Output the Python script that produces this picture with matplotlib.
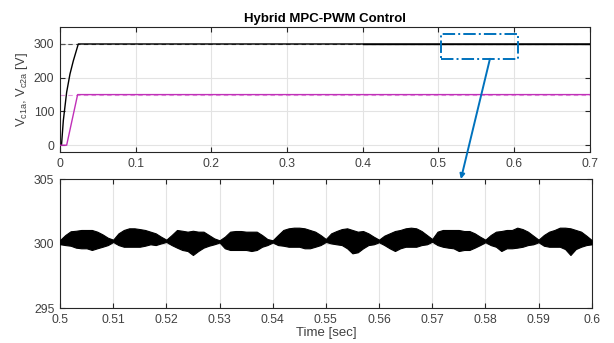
import numpy as np
import matplotlib
matplotlib.use("Agg")
import matplotlib.pyplot as plt
from matplotlib.patches import Rectangle, ConnectionPatch

plt.rcParams['font.family'] = ['Liberation Sans', 'DejaVu Sans']

# ---- top panel data ----
t_vc1 = [0.0, 0.002, 0.0044, 0.0088, 0.0132, 0.0176, 0.0242, 0.7]
v_vc1 = [0, 0, 73, 157, 211, 250, 300, 300]
t_vc2 = [0.0, 0.0088, 0.0233, 0.7]
v_vc2 = [0, 0, 150, 150]
ref_levels = [300, 150]

# ---- bottom panel data (envelope of Vc1a ripple, 0.5-0.6 s) ----
t_zoom = [round(0.5 + 0.001 * i, 3) for i in range(101)]
upper_env = [300.27, 300.66, 300.95, 300.99, 301.05, 301.05, 301.05, 300.92, 300.71, 300.45,
             300.30, 300.79, 301.05, 301.18, 301.18, 301.12, 301.05, 300.92, 300.79, 300.53,
             300.30, 300.66, 301.05, 300.99, 300.92, 300.99, 300.92, 300.92, 300.66, 300.40,
             300.25, 300.53, 300.92, 300.97, 300.97, 300.92, 300.92, 300.92, 300.66, 300.35,
             300.25, 300.66, 301.05, 301.18, 301.23, 301.23, 301.18, 301.05, 300.92, 300.66,
             300.35, 300.79, 300.97, 301.12, 301.18, 301.05, 300.92, 300.97, 300.79, 300.53,
             300.30, 300.61, 300.79, 300.97, 301.05, 301.18, 301.23, 301.18, 300.97, 300.66,
             300.35, 300.92, 301.05, 301.05, 301.05, 301.05, 300.97, 300.97, 300.79, 300.53,
             300.30, 300.66, 300.92, 300.97, 301.05, 301.05, 301.23, 301.12, 300.92, 300.61,
             300.30, 300.66, 300.92, 301.05, 301.23, 301.23, 301.18, 301.05, 300.92, 300.61,
             300.27]
lower_env = [299.95, 299.88, 299.83, 299.68, 299.63, 299.63, 299.50, 299.63, 299.75, 299.88,
             300.12, 299.88, 299.75, 299.75, 299.75, 299.75, 299.83, 299.94, 299.88, 300.01,
             300.12, 299.88, 299.68, 299.50, 299.42, 299.11, 299.42, 299.68, 299.83, 299.94,
             300.08, 299.63, 299.50, 299.50, 299.50, 299.50, 299.42, 299.50, 299.75, 299.88,
             300.08, 299.88, 299.83, 299.75, 299.75, 299.75, 299.63, 299.63, 299.75, 299.88,
             300.12, 300.01, 299.94, 299.88, 299.63, 299.24, 299.32, 299.63, 299.88, 299.94,
             300.10, 299.88, 299.63, 299.42, 299.63, 299.75, 299.75, 299.75, 299.88, 299.94,
             300.14, 299.88, 299.75, 299.68, 299.63, 299.42, 299.50, 299.50, 299.68, 299.88,
             300.10, 299.88, 299.75, 299.42, 299.63, 299.63, 299.68, 299.75, 299.88, 299.94,
             300.10, 299.83, 299.75, 299.75, 299.75, 299.57, 299.11, 299.57, 299.75, 299.88,
             299.94]

top_xticks = [0, 0.1, 0.2, 0.3, 0.4, 0.5, 0.6, 0.7]
top_xlabels = ['0', '0.1', '0.2', '0.3', '0.4', '0.5', '0.6', '0.7']
top_yticks = [0, 100, 200, 300]
bot_xticks = [0.5, 0.51, 0.52, 0.53, 0.54, 0.55, 0.56, 0.57, 0.58, 0.59, 0.6]
bot_xlabels = ['0.5', '0.51', '0.52', '0.53', '0.54', '0.55', '0.56', '0.57', '0.58', '0.59', '0.6']
bot_yticks = [295, 300, 305]

zoom_box = (0.503, 0.605, 256, 329)

txt = '#262626'
lab = '#404040'
fig = plt.figure(figsize=(6.14, 3.43), dpi=100)
ax1 = fig.add_axes([0.0977, 0.557, 0.863, 0.364])
ax2 = fig.add_axes([0.0977, 0.102, 0.866, 0.376])

for ax in (ax1, ax2):
    ax.grid(True, color='#e3e3e3', lw=0.8)
    ax.set_axisbelow(True)
    for s in ax.spines.values():
        s.set_color(txt)
        s.set_linewidth(0.8)
    ax.tick_params(direction='in', length=3.5, width=0.8, colors=txt,
                   labelcolor=lab, labelsize=8.8, top=True, right=True, pad=4)

# top panel
ax1.plot([0, 0.7], [ref_levels[0]] * 2, color='#555555', lw=0.8, ls=(0, (4, 3)), zorder=2)
ax1.plot([0, 0.7], [ref_levels[1]] * 2, color='#e59ae0', lw=0.8, ls=(0, (4, 3)), zorder=2)
ax1.plot(t_vc1, v_vc1, color='black', lw=1.0, zorder=3)
ax1.plot(t_vc2, v_vc2, color='#c030b8', lw=1.0, zorder=3)
ax1.plot([0.4, 0.7], [ref_levels[0]] * 2, color='black', lw=1.0, zorder=4)
ax1.set_xlim(0, 0.7)
ax1.set_ylim(-20, 350)
ax1.set_xticks(top_xticks)
ax1.set_xticklabels(top_xlabels)
ax1.set_yticks(top_yticks)
ax1.set_ylabel('V$_{\\mathregular{c1a}}$, V$_{\\mathregular{c2a}}$ [V]', fontsize=9.3, color=lab, labelpad=3)
ax1.set_title('Hybrid MPC-PWM Control', fontsize=9.5, fontweight='bold', color='black', pad=4)

x0, x1, y0, y1 = zoom_box
ax1.add_patch(Rectangle((x0, y0), x1 - x0, y1 - y0, fill=False, ec='#0072BD',
                        lw=1.4, ls='-.', zorder=5))

# bottom panel
ax2.fill_between(t_zoom, lower_env, upper_env, color='black', lw=0.8, edgecolor='black', zorder=3)
ax2.set_xlim(0.5, 0.6)
ax2.set_ylim(295, 305)
ax2.set_xticks(bot_xticks)
ax2.set_xticklabels(bot_xlabels)
ax2.set_yticks(bot_yticks)
ax2.set_xlabel('Time [sec]', fontsize=9.5, color=lab, labelpad=1)

con = ConnectionPatch(xyA=(0.568, y0), coordsA=ax1.transData,
                      xyB=(0.5754, 305), coordsB=ax2.transData,
                      arrowstyle='-|>', mutation_scale=7, color='#0072BD', lw=1.4, zorder=10)
fig.add_artist(con)

fig.savefig('out.png', dpi=100)
